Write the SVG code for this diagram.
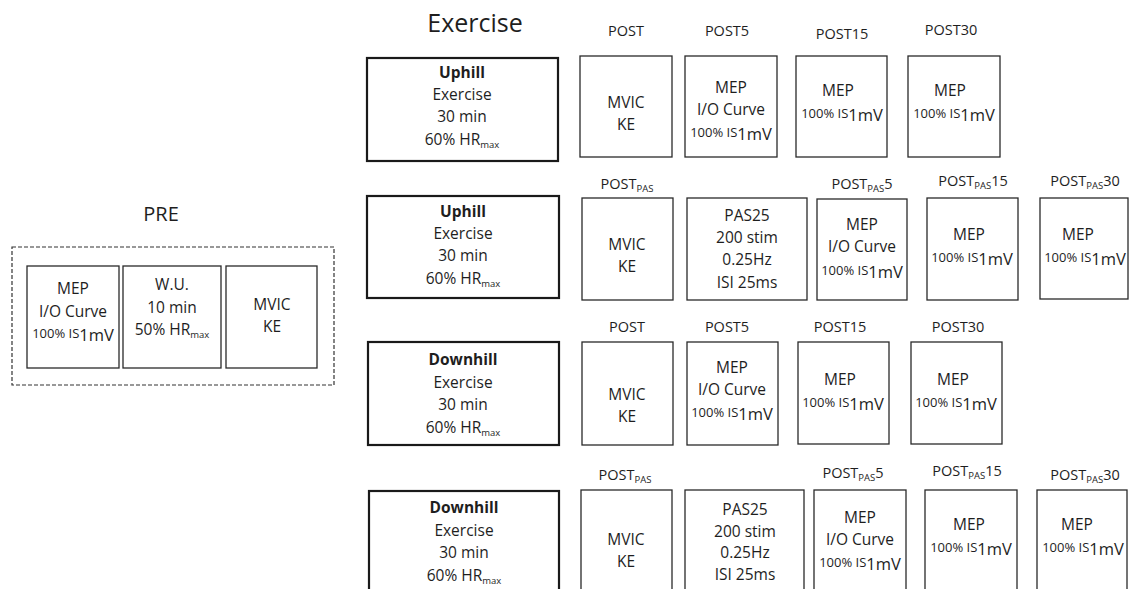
<svg xmlns="http://www.w3.org/2000/svg" width="1129" height="589" viewBox="0 0 1129 589">
<style>
text{font-family:"Open Sans","Liberation Sans",sans-serif;fill:#1e1e1e;text-anchor:middle}
.t{font-size:15.5px}
.s{font-size:13px}
.b{font-weight:bold}
.lab{font-size:14.5px}
.sub{font-size:9.5px}
.big{font-size:16.5px}
.box{fill:#fff;stroke:#2a2a2a;stroke-width:1.3}
.ex{fill:#fff;stroke:#1a1a1a;stroke-width:2.2}
.dash{fill:none;stroke:#333;stroke-width:1.2;stroke-dasharray:4 2}
</style>
<rect width="1129" height="589" fill="#fff"/>
<g id="connectors"/>

<g id="pre">
<text x="161" y="221" style="font-size:20px">PRE</text>
<rect class="dash" x="12" y="247" width="322" height="138"/>
<g id="pre-mep">
<rect class="box" x="27" y="266" width="92" height="102"/>
<text class="t" x="73" y="294">MEP</text>
<text class="t" x="73" y="317">I/O Curve</text>
<text class="s" x="73" y="338">100% IS<tspan class="big" dy="3">1mV</tspan></text>
</g>
<g id="pre-wu">
<rect class="box" x="123" y="266" width="98" height="102"/>
<text class="t" x="172" y="290">W.U.</text>
<text class="t" x="172" y="313">10 min</text>
<text class="t" x="172" y="335">50% HR<tspan class="sub" dy="3">max</tspan></text>
</g>
<g id="pre-mvic">
<rect class="box" x="226" y="266" width="91" height="102"/>
<text class="t" x="272" y="310">MVIC</text>
<text class="t" x="272" y="332">KE</text>
</g>
</g>

<text x="475" y="32" style="font-size:25px">Exercise</text>

<!-- Row 1 -->
<g id="r1-ex">
<rect class="ex" x="367" y="58" width="191" height="103"/>
<text class="t b" x="462" y="78">Uphill</text>
<text class="t" x="462" y="100">Exercise</text>
<text class="t" x="462" y="122">30 min</text>
<text class="t" x="462" y="145">60% HR<tspan class="sub" dy="3">max</tspan></text>
</g>
<g id="r1-post">
<text class="lab" x="626" y="36">POST</text>
<rect class="box" x="580" y="56" width="92" height="101"/>
<text class="t" x="626" y="108">MVIC</text>
<text class="t" x="626" y="130">KE</text>
</g>
<g id="r1-post5">
<text class="lab" x="727" y="36">POST5</text>
<rect class="box" x="685" y="56" width="92" height="101"/>
<text class="t" x="731" y="93">MEP</text>
<text class="t" x="731" y="115">I/O Curve</text>
<text class="s" x="731" y="137">100% IS<tspan class="big" dy="3">1mV</tspan></text>
</g>
<g id="r1-post15">
<text class="lab" x="842" y="39">POST15</text>
<rect class="box" x="796" y="56" width="91" height="101"/>
<text class="t" x="838" y="96">MEP</text>
<text class="s" x="842" y="118">100% IS<tspan class="big" dy="3">1mV</tspan></text>
</g>
<g id="r1-post30">
<text class="lab" x="951" y="35">POST30</text>
<rect class="box" x="908" y="56" width="92" height="101"/>
<text class="t" x="950" y="96">MEP</text>
<text class="s" x="954" y="118">100% IS<tspan class="big" dy="3">1mV</tspan></text>
</g>

<!-- Row 2 -->
<g id="r2-ex">
<rect class="ex" x="367" y="196" width="192" height="102"/>
<text class="t b" x="463" y="217">Uphill</text>
<text class="t" x="463" y="239">Exercise</text>
<text class="t" x="463" y="261">30 min</text>
<text class="t" x="463" y="284">60% HR<tspan class="sub" dy="3">max</tspan></text>
</g>
<g id="r2-postpas">
<text class="lab" x="627" y="189">POST<tspan class="sub" dy="3">PAS</tspan></text>
<rect class="box" x="582" y="198" width="91" height="102"/>
<text class="t" x="627" y="250">MVIC</text>
<text class="t" x="627" y="272">KE</text>
</g>
<g id="r2-pas">
<rect class="box" x="687" y="198" width="120" height="102"/>
<text class="t" x="747" y="221">PAS25</text>
<text class="t" x="747" y="243">200 stim</text>
<text class="t" x="747" y="265">0.25Hz</text>
<text class="t" x="747" y="288">ISI 25ms</text>
</g>
<g id="r2-postpas5">
<text class="lab" x="862" y="189">POST<tspan class="sub" dy="3">PAS</tspan><tspan dy="-3">5</tspan></text>
<rect class="box" x="817" y="199" width="90" height="101"/>
<text class="t" x="862" y="230">MEP</text>
<text class="t" x="862" y="252">I/O Curve</text>
<text class="s" x="862" y="275">100% IS<tspan class="big" dy="3">1mV</tspan></text>
</g>
<g id="r2-postpas15">
<text class="lab" x="973" y="186">POST<tspan class="sub" dy="3">PAS</tspan><tspan dy="-3">15</tspan></text>
<rect class="box" x="927" y="198" width="91" height="102"/>
<text class="t" x="969" y="240">MEP</text>
<text class="s" x="972" y="262">100% IS<tspan class="big" dy="3">1mV</tspan></text>
</g>
<g id="r2-postpas30">
<text class="lab" x="1085" y="186">POST<tspan class="sub" dy="3">PAS</tspan><tspan dy="-3">30</tspan></text>
<rect class="box" x="1040" y="198" width="88" height="101"/>
<text class="t" x="1078" y="240">MEP</text>
<text class="s" x="1085" y="262">100% IS<tspan class="big" dy="3">1mV</tspan></text>
</g>

<!-- Row 3 -->
<g id="r3-ex">
<rect class="ex" x="368" y="342" width="191" height="103"/>
<text class="t b" x="463" y="365">Downhill</text>
<text class="t" x="463" y="388">Exercise</text>
<text class="t" x="463" y="410">30 min</text>
<text class="t" x="463" y="433">60% HR<tspan class="sub" dy="3">max</tspan></text>
</g>
<g id="r3-post">
<text class="lab" x="627" y="332">POST</text>
<rect class="box" x="582" y="342" width="91" height="103"/>
<text class="t" x="627" y="400">MVIC</text>
<text class="t" x="627" y="422">KE</text>
</g>
<g id="r3-post5">
<text class="lab" x="727" y="332">POST5</text>
<rect class="box" x="687" y="342" width="91" height="103"/>
<text class="t" x="732" y="373">MEP</text>
<text class="t" x="732" y="395">I/O Curve</text>
<text class="s" x="732" y="417">100% IS<tspan class="big" dy="3">1mV</tspan></text>
</g>
<g id="r3-post15">
<text class="lab" x="840" y="332">POST15</text>
<rect class="box" x="798" y="342" width="91" height="102"/>
<text class="t" x="840" y="385">MEP</text>
<text class="s" x="843" y="407">100% IS<tspan class="big" dy="3">1mV</tspan></text>
</g>
<g id="r3-post30">
<text class="lab" x="958" y="332">POST30</text>
<rect class="box" x="911" y="342" width="91" height="102"/>
<text class="t" x="953" y="385">MEP</text>
<text class="s" x="956" y="407">100% IS<tspan class="big" dy="3">1mV</tspan></text>
</g>

<!-- Row 4 -->
<g id="r4-ex">
<rect class="ex" x="369" y="491" width="190" height="104"/>
<text class="t b" x="464" y="513">Downhill</text>
<text class="t" x="464" y="536">Exercise</text>
<text class="t" x="464" y="558">30 min</text>
<text class="t" x="464" y="581">60% HR<tspan class="sub" dy="3">max</tspan></text>
</g>
<g id="r4-postpas">
<text class="lab" x="625" y="480">POST<tspan class="sub" dy="3">PAS</tspan></text>
<rect class="box" x="581" y="490" width="91" height="104"/>
<text class="t" x="626" y="545">MVIC</text>
<text class="t" x="626" y="567">KE</text>
</g>
<g id="r4-pas">
<rect class="box" x="685" y="490" width="119" height="104"/>
<text class="t" x="745" y="515">PAS25</text>
<text class="t" x="745" y="537">200 stim</text>
<text class="t" x="745" y="558">0.25Hz</text>
<text class="t" x="745" y="580">ISI 25ms</text>
</g>
<g id="r4-postpas5">
<text class="lab" x="853" y="478">POST<tspan class="sub" dy="3">PAS</tspan><tspan dy="-3">5</tspan></text>
<rect class="box" x="814" y="490" width="92" height="104"/>
<text class="t" x="860" y="523">MEP</text>
<text class="t" x="860" y="545">I/O Curve</text>
<text class="s" x="860" y="567">100% IS<tspan class="big" dy="3">1mV</tspan></text>
</g>
<g id="r4-postpas15">
<text class="lab" x="967" y="476">POST<tspan class="sub" dy="3">PAS</tspan><tspan dy="-3">15</tspan></text>
<rect class="box" x="925" y="490" width="92" height="104"/>
<text class="t" x="969" y="530">MEP</text>
<text class="s" x="971" y="552">100% IS<tspan class="big" dy="3">1mV</tspan></text>
</g>
<g id="r4-postpas30">
<text class="lab" x="1085" y="480">POST<tspan class="sub" dy="3">PAS</tspan><tspan dy="-3">30</tspan></text>
<rect class="box" x="1037" y="490" width="90" height="104"/>
<text class="t" x="1077" y="530">MEP</text>
<text class="s" x="1083" y="552">100% IS<tspan class="big" dy="3">1mV</tspan></text>
</g>
</svg>
